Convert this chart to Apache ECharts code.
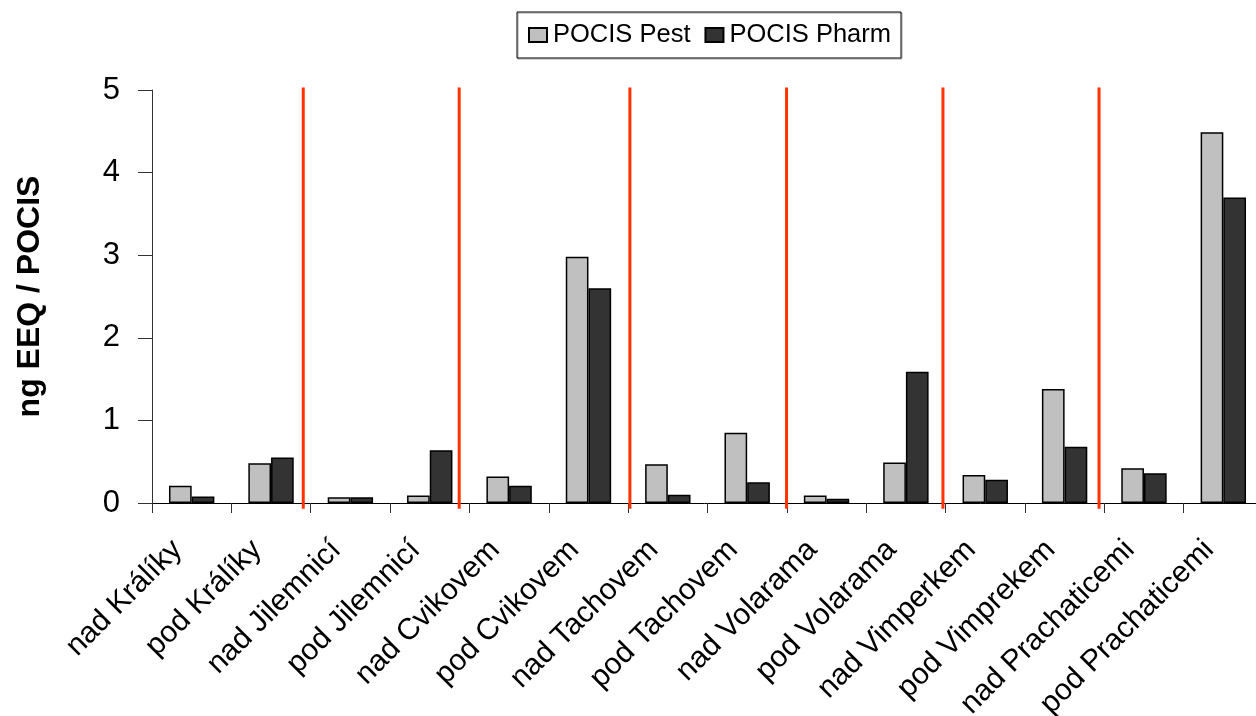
<!DOCTYPE html>
<html>
<head>
<meta charset="utf-8">
<script src="https://cdn.jsdelivr.net/npm/echarts@6/dist/echarts.min.js"></script>
<style>
  html, body { margin: 0; padding: 0; background: #fff; }
  #chart { width: 1256px; height: 716px; }
</style>
</head>
<body>
<div id="chart"></div>
<script>
// Sampling sites along the rivers (upstream "nad" / downstream "pod")
const categories = [
  'nad Králíky', 'pod Králíky',
  'nad Jilemnicí', 'pod Jilemnicí',
  'nad Cvikovem', 'pod Cvikovem',
  'nad Tachovem', 'pod Tachovem',
  'nad Volarama', 'pod Volarama',
  'nad Vimperkem', 'pod Vimprekem',
  'nad Prachaticemi', 'pod Prachaticemi'
];

// Estrogenic activity, ng EEQ per POCIS sampler
const pocisPest  = [0.21, 0.48, 0.07, 0.09, 0.32, 2.98, 0.47, 0.85, 0.09, 0.49, 0.34, 1.38, 0.42, 4.49];
const pocisPharm = [0.08, 0.55, 0.07, 0.64, 0.21, 2.60, 0.10, 0.25, 0.05, 1.59, 0.28, 0.68, 0.36, 3.70];

const seriesNames = ['POCIS Pest', 'POCIS Pharm'];
const yTicks = [0, 1, 2, 3, 4, 5];

// Separators between the river pairs, in category-axis units
const separatorPositions = [1.906, 3.871, 6.022, 7.996, 9.967, 11.934];
const separatorSpan = [-0.07, 5.03];

const FONT = "'Liberation Sans', Arial, sans-serif";

const chart = echarts.init(document.getElementById('chart'), null, { renderer: 'canvas' });

const separatorSeries = separatorPositions.map(x => ({
  type: 'line',
  xAxisIndex: 1,
  yAxisIndex: 0,
  data: separatorSpan.map(y => [x, y]),
  symbol: 'none',
  clip: false,
  silent: true,
  z: 5,
  lineStyle: { color: '#ff3300', width: 3 },
  animation: false
}));

chart.setOption({
  animation: false,
  backgroundColor: '#fff',
  textStyle: { fontFamily: FONT },
  legend: {
    data: seriesNames,
    icon: 'rect',
    left: 517,
    top: 12,
    padding: [10, 10, 10, 11],
    itemGap: 14,
    itemWidth: 18,
    itemHeight: 14,
    borderColor: '#000',
    borderWidth: 1,
    shadowColor: 'rgba(0,0,0,0.35)',
    shadowOffsetX: 1,
    shadowOffsetY: 1,
    textStyle: { fontFamily: FONT, fontSize: 25.5, color: '#000', padding: [0, 0, 0, 1] }
  },
  grid: {
    left: 152, right: -7, top: 90, bottom: 213,
    containLabel: false,
    outerBoundsMode: 'none'
  },
  xAxis: [
    {
      type: 'category',
      data: categories,
      boundaryGap: true,
      axisLine: { lineStyle: { color: '#000', width: 1 } },
      axisTick: { show: true, length: 10, lineStyle: { color: '#333' } },
      axisLabel: {
        interval: 0,
        rotate: 45,
        margin: 28,
        padding: [0, 20, 0, 0],
        fontFamily: FONT,
        fontSize: 30,
        color: '#000'
      },
      splitLine: { show: false }
    },
    {
      type: 'value',
      min: 0,
      max: categories.length,
      show: false
    }
  ],
  yAxis: {
    type: 'value',
    min: yTicks[0],
    max: yTicks[yTicks.length - 1],
    interval: 1,
    name: 'ng EEQ / POCIS',
    nameLocation: 'middle',
    nameGap: 106,
    nameTextStyle: { fontFamily: FONT, fontSize: 32, fontWeight: 'bold', color: '#000' },
    axisLine: { show: true, lineStyle: { color: '#333', width: 1 } },
    axisTick: { show: true, length: 14, lineStyle: { color: '#333' } },
    axisLabel: { margin: 32, fontFamily: FONT, fontSize: 31, color: '#000' },
    splitLine: { show: false }
  },
  series: [
    {
      name: seriesNames[0],
      type: 'bar',
      data: pocisPest,
      barWidth: '28.6%',
      barGap: '0%',
      itemStyle: { color: '#c0c0c0', borderColor: '#000', borderWidth: 1.5 }
    },
    {
      name: seriesNames[1],
      type: 'bar',
      data: pocisPharm,
      barWidth: '28.6%',
      barGap: '0%',
      itemStyle: { color: '#333333', borderColor: '#000', borderWidth: 1.5 }
    }
  ].concat(separatorSeries)
});
</script>
</body>
</html>
